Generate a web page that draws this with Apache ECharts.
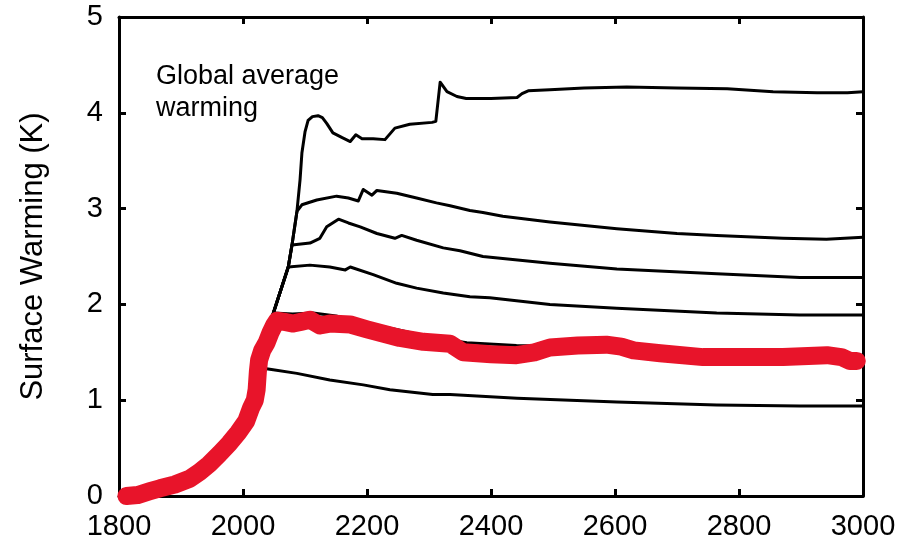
<!DOCTYPE html>
<html><head><meta charset="utf-8">
<script src="https://cdn.jsdelivr.net/npm/echarts@6/dist/echarts.min.js"></script>
<style>html,body{margin:0;padding:0;background:#fff}#c{width:902px;height:545px}</style>
</head><body><div id="c"></div>
<script>
// Tick labels
var xTicks = [1800, 2000, 2200, 2400, 2600, 2800, 3000];
var yTicks = [0, 1, 2, 3, 4, 5];
// Shared historical part (hidden under red) for black runs
var histYears = [1812, 1850, 1900, 1945, 1978, 2005, 2015, 2022, 2026, 2032];
var histVals  = [0.00, 0.05, 0.14, 0.33, 0.55, 0.78, 0.95, 1.11, 1.30, 1.40];
// Common ramp after 2040
var rampYears = [2040, 2049, 2073, 2079, 2087, 2092, 2095, 2100, 2105];
var rampVals  = [1.62, 1.91, 2.39, 2.62, 2.97, 3.30, 3.58, 3.80, 3.92];

var run1Years = [2112, 2121, 2128, 2135, 2145, 2160, 2173, 2182, 2192, 2210, 2229, 2245, 2269, 2305, 2311, 2318, 2329, 2345, 2360, 2400, 2442, 2450, 2460, 2495, 2550, 2619, 2700, 2781, 2855, 2926, 2975, 3000];
var run1Vals  = [3.96, 3.97, 3.95, 3.89, 3.79, 3.74, 3.70, 3.77, 3.73, 3.73, 3.72, 3.84, 3.88, 3.90, 3.91, 4.32, 4.22, 4.17, 4.15, 4.15, 4.16, 4.20, 4.23, 4.24, 4.26, 4.27, 4.26, 4.25, 4.22, 4.21, 4.21, 4.22];

var run2Years = [2095, 2119, 2151, 2170, 2186, 2194, 2208, 2216, 2248, 2280, 2312, 2334, 2366, 2387, 2419, 2495, 2603, 2700, 2764, 2871, 2941, 3000];
var run2Vals  = [3.04, 3.09, 3.13, 3.11, 3.08, 3.20, 3.14, 3.19, 3.16, 3.11, 3.06, 3.03, 2.98, 2.96, 2.92, 2.86, 2.79, 2.74, 2.72, 2.69, 2.68, 2.70];

var run3Years = [2108, 2124, 2135, 2154, 2170, 2189, 2216, 2245, 2256, 2280, 2323, 2350, 2387, 2495, 2603, 2764, 2898, 3000];
var run3Vals  = [2.64, 2.69, 2.81, 2.89, 2.85, 2.81, 2.74, 2.69, 2.72, 2.67, 2.59, 2.56, 2.50, 2.43, 2.37, 2.32, 2.28, 2.28];

var run4Years = [2108, 2140, 2165, 2173, 2210, 2248, 2280, 2323, 2366, 2398, 2495, 2603, 2764, 2898, 3000];
var run4Vals  = [2.41, 2.39, 2.36, 2.39, 2.31, 2.22, 2.17, 2.12, 2.08, 2.07, 2.00, 1.96, 1.91, 1.89, 1.89];

var run5Years = [2080, 2113, 2150, 2200, 2253, 2300, 2361, 2441, 2500, 2600, 2800, 3000];
var run5Vals  = [1.90, 1.91, 1.88, 1.80, 1.73, 1.66, 1.60, 1.57, 1.56, 1.54, 1.50, 1.47];

var run6Years = [2035, 2046, 2087, 2140, 2194, 2237, 2306, 2334, 2442, 2603, 2764, 2898, 3000];
var run6Vals  = [1.33, 1.32, 1.28, 1.21, 1.16, 1.11, 1.06, 1.06, 1.02, 0.98, 0.95, 0.94, 0.94];

var redYears = [1812, 1830, 1850, 1866, 1890, 1914, 1930, 1945, 1962, 1978, 1992, 2005, 2013, 2019, 2022, 2024, 2026, 2031, 2038, 2044, 2050, 2055, 2065, 2081, 2095, 2108, 2124, 2140, 2173, 2200, 2253, 2291, 2334, 2355, 2400, 2441, 2470, 2495, 2540, 2586, 2610, 2630, 2673, 2742, 2800, 2871, 2942, 2965, 2979, 2990];
var redVals  = [0.00, 0.01, 0.05, 0.08, 0.12, 0.18, 0.25, 0.33, 0.44, 0.55, 0.66, 0.78, 0.92, 1.00, 1.11, 1.30, 1.42, 1.52, 1.60, 1.70, 1.78, 1.83, 1.82, 1.80, 1.82, 1.84, 1.78, 1.80, 1.79, 1.74, 1.65, 1.61, 1.59, 1.50, 1.48, 1.47, 1.50, 1.55, 1.57, 1.58, 1.56, 1.52, 1.49, 1.45, 1.45, 1.45, 1.47, 1.45, 1.41, 1.41];

function zip(xs, ys) { return xs.map(function (x, i) { return [x, ys[i]]; }); }
function rampUpTo(year) {
  var out = zip(histYears, histVals);
  for (var i = 0; i < rampYears.length; i++) if (rampYears[i] <= year) out.push([rampYears[i], rampVals[i]]);
  return out;
}

var blackRuns = [
  rampUpTo(2105).concat(zip(run1Years, run1Vals)),
  rampUpTo(2087).concat(zip(run2Years, run2Vals)),
  rampUpTo(2079).concat(zip(run3Years, run3Vals)),
  rampUpTo(2073).concat(zip(run4Years, run4Vals)),
  rampUpTo(2049).concat(zip(run5Years, run5Vals)),
  zip(histYears, histVals).concat(zip(run6Years, run6Vals))
];

var FONT = 'Liberation Sans';
var series = blackRuns.map(function (d) {
  return { type: 'line', data: d, showSymbol: false, symbol: 'none', z: 2,
    lineStyle: { color: '#000', width: 3, join: 'round' }, animation: false };
});
series.push({ type: 'line', data: zip(redYears, redVals), showSymbol: false, symbol: 'none', z: 5,
  lineStyle: { color: '#e8142a', width: 18, cap: 'round', join: 'round' }, animation: false });

var chart = echarts.init(document.getElementById('c'));
var axisLine = { show: true, onZero: false, lineStyle: { color: '#000', width: 3 } };
var tick = { show: true, inside: true, length: 7, lineStyle: { color: '#000', width: 3 } };
chart.setOption({
  animation: false,
  backgroundColor: '#fff',
  grid: { left: 119, right: 39, top: 17, bottom: 49, containLabel: false },
  xAxis: [
    { type: 'value', min: xTicks[0], max: xTicks[xTicks.length - 1], interval: 200, position: 'bottom',
      axisLine: axisLine, axisTick: tick, splitLine: { show: false },
      axisLabel: { color: '#000', fontFamily: FONT, fontSize: 29, margin: 16,
        formatter: function (v) { return String(v); } } },
    { type: 'value', min: xTicks[0], max: xTicks[xTicks.length - 1], interval: 200, position: 'top',
      axisLine: axisLine, axisTick: tick, splitLine: { show: false }, axisLabel: { show: false } }
  ],
  yAxis: [
    { type: 'value', min: yTicks[0], max: yTicks[yTicks.length - 1], interval: 1, position: 'left',
      axisLine: axisLine, axisTick: tick, splitLine: { show: false },
      axisLabel: { color: '#000', fontFamily: FONT, fontSize: 29, margin: 16,
        formatter: function (v) { return String(v); } },
      name: 'Surface Warming (K)', nameLocation: 'middle', nameGap: 70,
      nameTextStyle: { color: '#000', fontFamily: FONT, fontSize: 31 } },
    { type: 'value', min: yTicks[0], max: yTicks[yTicks.length - 1], interval: 1, position: 'right',
      axisLine: axisLine, axisTick: tick, splitLine: { show: false }, axisLabel: { show: false } }
  ],
  graphic: [
    { type: 'text', left: 156, top: 61, z: 10,
      style: { text: 'Global average\nwarming', fill: '#000', font: '27px "Liberation Sans"', lineHeight: 32 } }
  ],
  series: series
});
</script></body></html>
